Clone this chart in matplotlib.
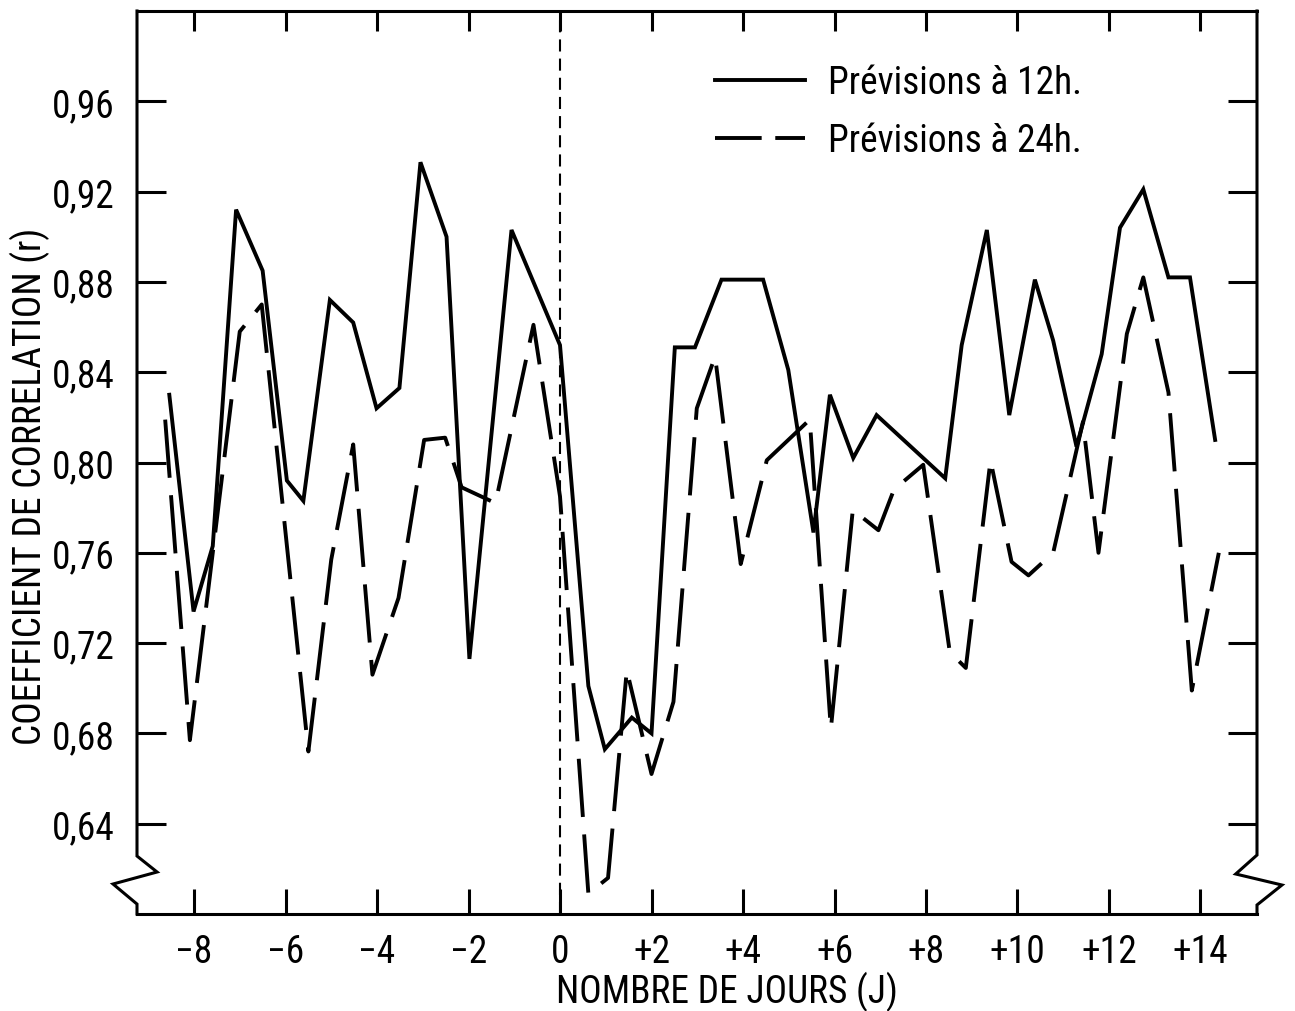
import matplotlib
matplotlib.use("Agg")
import matplotlib.pyplot as plt
from matplotlib import font_manager
from matplotlib.transforms import blended_transform_factory

# ---- data ----
days_12h = [-8.54, -8.01, -7.59, -7.08, -6.50, -5.97, -5.61, -5.03, -4.52, -4.01,
            -3.51, -3.05, -2.48, -1.98, -1.06, 0.0, 0.62, 0.98, 1.57, 2.0,
            2.51, 2.95, 3.53, 4.44, 4.99, 5.54, 5.90, 6.41, 6.92, 8.42,
            8.78, 9.33, 9.82, 10.38, 10.78, 11.29, 11.84, 12.24, 12.75, 13.30,
            13.77, 14.32]
r_12h = [0.830, 0.734, 0.763, 0.912, 0.885, 0.792, 0.783, 0.872, 0.862, 0.824,
         0.833, 0.933, 0.900, 0.713, 0.903, 0.852, 0.701, 0.673, 0.687, 0.680,
         0.851, 0.851, 0.881, 0.881, 0.841, 0.769, 0.830, 0.802, 0.821, 0.793,
         0.852, 0.903, 0.821, 0.881, 0.854, 0.807, 0.848, 0.904, 0.921, 0.882,
         0.882, 0.810]

days_24h = [-8.63, -8.09, -7.0, -6.52, -5.5, -5.0, -4.52, -4.1, -3.53, -2.97,
            -2.51, -2.15, -1.41, -0.58, 0.0, 0.62, 1.05, 1.46, 2.0, 2.48,
            2.99, 3.39, 3.95, 4.52, 5.46, 5.92, 6.40, 6.96, 7.3, 7.94,
            8.52, 8.87, 9.41, 9.87, 10.24, 10.78, 11.43, 11.77, 12.39, 12.75,
            13.30, 13.81, 14.4]
r_24h = [0.819, 0.677, 0.858, 0.870, 0.672, 0.757, 0.808, 0.706, 0.740, 0.810,
         0.811, 0.789, 0.782, 0.861, 0.785, 0.609, 0.616, 0.708, 0.662, 0.694,
         0.824, 0.847, 0.755, 0.801, 0.819, 0.682, 0.779, 0.770, 0.788, 0.799,
         0.716, 0.709, 0.801, 0.756, 0.750, 0.760, 0.818, 0.760, 0.857, 0.882,
         0.831, 0.699, 0.760]

xticks = [-8, -6, -4, -2, 0, 2, 4, 6, 8, 10, 12, 14]
xtick_labels = ["\u22128", "\u22126", "\u22124", "\u22122", "0", "+2", "+4",
                "+6", "+8", "+10", "+12", "+14"]
yticks = [0.64, 0.68, 0.72, 0.76, 0.80, 0.84, 0.88, 0.92, 0.96]
ytick_labels = ["0,64", "0,68", "0,72", "0,76", "0,80", "0,84", "0,88",
                "0,92", "0,96"]
label_12h = "Prévisions à 12h."
label_24h = "Prévisions à 24h."
xlabel = "NOMBRE DE JOURS (J)"
ylabel = "COEFFICIENT DE CORRELATION (r)"

# pick a narrow font if one is installed
available = {f.name for f in font_manager.fontManager.ttflist}
narrow = [n for n in ("Liberation Sans Narrow", "Roboto Condensed",
                      "Open Sans Condensed") if n in available]
if narrow:
    FONT = narrow[0]
    FS_TICK, FS_TEXT = 27, 27
else:
    FONT = "DejaVu Sans"
    FS_TICK, FS_TEXT = 20, 21

plt.rcParams["font.family"] = FONT

fig = plt.figure(figsize=(12.95, 10.12), dpi=100)
ax = fig.add_axes([137 / 1295, 97 / 1012, 1120 / 1295, 903 / 1012])

ax.plot(days_12h, r_12h, color="black", lw=2.8, solid_joinstyle="miter",
        label=label_12h)
ax.plot(days_24h, r_24h, color="black", lw=2.8, dashes=(15, 4.5),
        label=label_24h)
ax.axvline(0, color="black", lw=1.5, dashes=(5.8, 3.4))

ax.set_xlim(-9.246, 15.235)
ax.set_ylim(0.60, 1.00)

ax.set_xticks(xticks)
ax.set_xticklabels(xtick_labels, fontsize=FS_TICK)
ax.set_yticks(yticks)
ax.set_yticklabels(ytick_labels, fontsize=FS_TICK)
ax.tick_params(axis="x", direction="in", length=0, pad=14)
ax.tick_params(axis="y", direction="in", length=0, pad=16)

# inward tick marks on all four sides, placed at the tick values
tx = blended_transform_factory(ax.transData, ax.transAxes)
ty = blended_transform_factory(ax.transAxes, ax.transData)
for v in xticks:
    ax.plot([v, v], [0, 0.0277], color="black", lw=2.2, transform=tx,
            solid_capstyle="butt", clip_on=False)
    ax.plot([v, v], [1, 1 - 0.0221], color="black", lw=2.2, transform=tx,
            solid_capstyle="butt", clip_on=False)
for v in yticks:
    ax.plot([0, 0.0259], [v, v], color="black", lw=2.2, transform=ty,
            solid_capstyle="butt", clip_on=False)
    ax.plot([1, 1 - 0.0259], [v, v], color="black", lw=2.2, transform=ty,
            solid_capstyle="butt", clip_on=False)

# frame: top/bottom spines, left/right drawn with a break symbol
for s in ("left", "right"):
    ax.spines[s].set_visible(False)
for s in ("top", "bottom"):
    ax.spines[s].set_linewidth(2.2)

lx = [0, 0, 0.0179, -0.0214, 0, 0]
ly = [1, 0.0642, 0.0465, 0.0332, 0.011, 0]
rx = [1, 1, 0.981, 1.0223, 1, 1]
ry = [1, 0.0653, 0.0443, 0.0321, 0.010, 0]
ax.plot(lx, ly, color="black", lw=2.2, transform=ax.transAxes, clip_on=False,
        solid_joinstyle="miter")
ax.plot(rx, ry, color="black", lw=2.2, transform=ax.transAxes, clip_on=False,
        solid_joinstyle="miter")

px = FS_TEXT * 100 / 72
handles = ax.get_lines()[:2]
leg = ax.legend(handles=handles, labels=[label_12h, label_24h],
                loc="upper left", bbox_to_anchor=(0.516, 0.941),
                frameon=False, fontsize=FS_TEXT, handlelength=90 / px,
                handletextpad=23 / px, labelspacing=0.55, borderpad=0,
                borderaxespad=0)
leg.get_lines()[1].set_dashes((12, 3.5))

fig.text(727 / 1295, 9 / 1012, xlabel, fontsize=FS_TEXT, ha="center",
         va="baseline")
fig.text(30 / 1295, 1 - 486 / 1012, ylabel, fontsize=FS_TICK, ha="center",
         va="center", rotation=90)

fig.savefig("out.png", dpi=100)
